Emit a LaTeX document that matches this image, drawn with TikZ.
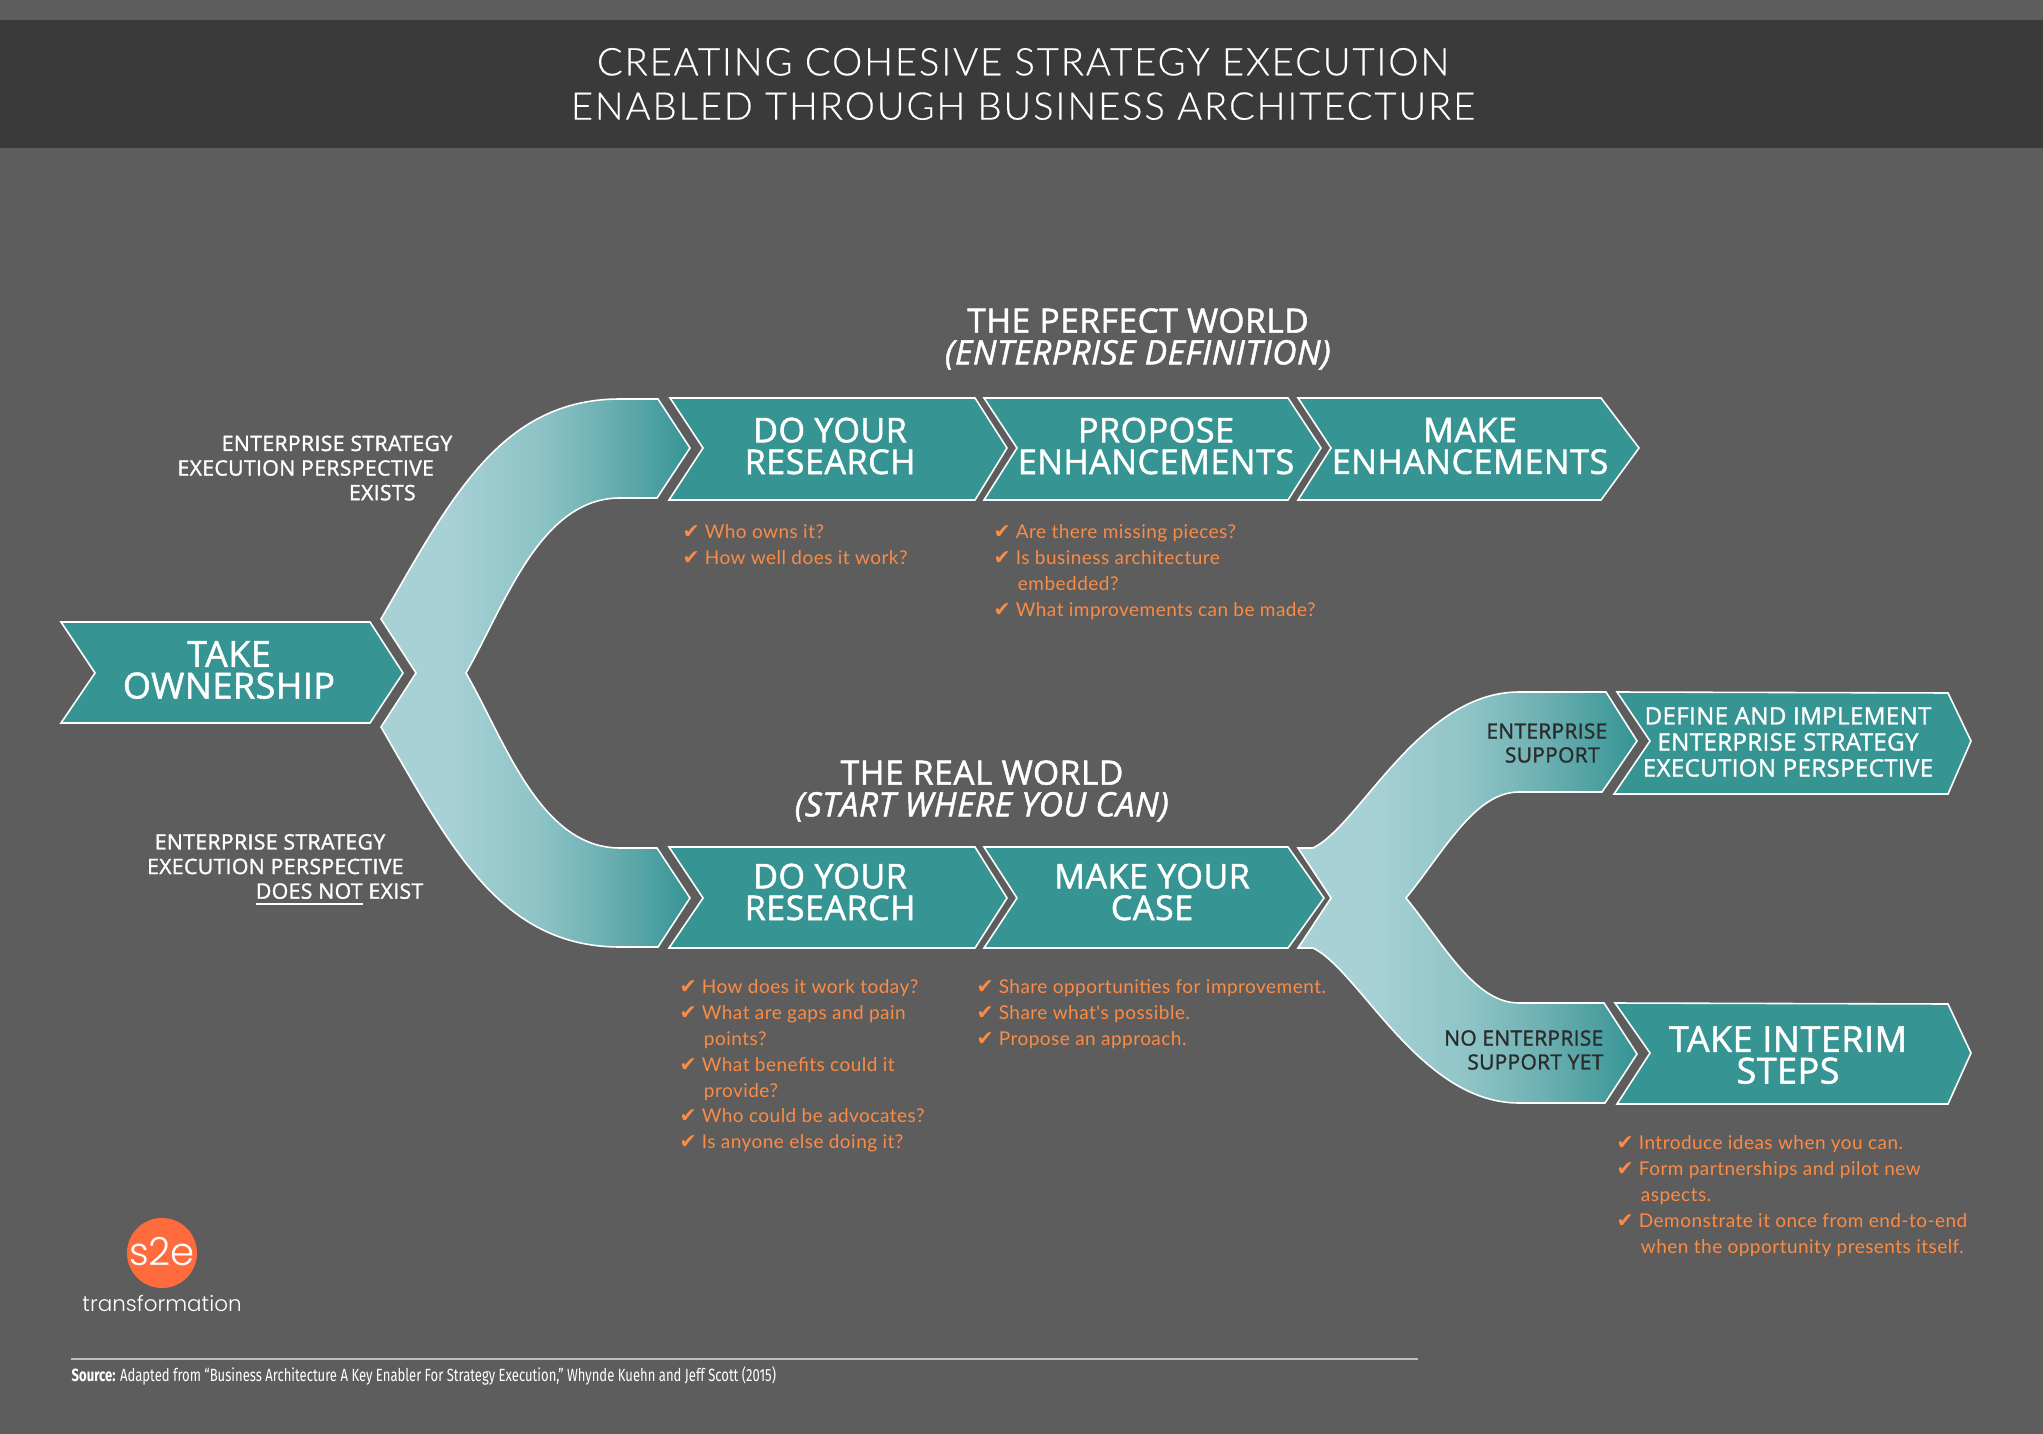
\documentclass[tikz,border=0pt]{standalone}
\usepackage{fontspec}
\setmainfont{Open Sans}
\newfontfamily\semifont[LetterSpace=1.5,FakeBold=1.4]{Open Sans}
\newfontfamily\titlefont[LetterSpace=5,FakeBold=0.4]{Lato Light}
\newfontfamily\listfont[LetterSpace=2.5]{Lato}
\newfontfamily\sourcefont[FakeStretch=0.74]{Fira Sans}
\newfontfamily\logofont{Poppins Light}
\newfontfamily\checkfont{DejaVu Sans}
\definecolor{bgcol}{HTML}{5D5D5D}
\definecolor{barcol}{HTML}{3A3A3A}
\definecolor{chevcol}{HTML}{369593}
\definecolor{listcol}{HTML}{FB8B45}
\definecolor{logocol}{HTML}{FF6B3D}
\definecolor{darktxt}{HTML}{2B2B2B}
\pgfdeclarehorizontalshading{forkgrad}{100bp}{rgb(0bp)=(0.66,0.82,0.84); rgb(35bp)=(0.66,0.82,0.84); rgb(50bp)=(0.56,0.77,0.78); rgb(61bp)=(0.43,0.69,0.70); rgb(75bp)=(0.21,0.58,0.58); rgb(100bp)=(0.21,0.58,0.58)}
\tikzstyle{chev}=[fill=chevcol, draw=white, line width=0.45pt]
\tikzstyle{fork}=[shade, shading=forkgrad, draw=white, line width=0.45pt]
\tikzstyle{chevtxt}=[text=white, align=center, inner sep=0pt, font=\semifont\fontsize{9.7}{9}\selectfont]
\tikzstyle{bigtxt}=[text=white, align=center, inner sep=0pt, font=\semifont\fontsize{10.2}{9}\selectfont]
\tikzstyle{smalltxt}=[text=white, align=center, inner sep=0pt, font=\semifont\fontsize{6.85}{7.4}\selectfont]
\tikzstyle{labeltxt}=[text=white, align=right, inner sep=0pt, font=\semifont\fontsize{6.05}{7}\selectfont]
\tikzstyle{forktxt}=[text=darktxt, align=right, anchor=east, inner sep=0pt, font=\semifont\fontsize{5.95}{6.8}\selectfont]
\tikzstyle{headtxt}=[text=white, align=center, inner sep=0pt, font=\semifont\fontsize{9.55}{9}\selectfont]
\tikzstyle{listtxt}=[text=listcol, align=left, anchor=north west, inner sep=0pt, font=\listfont\fontsize{5.4}{7.35}\selectfont]
\newcommand{\chk}{\makebox[6.3pt][l]{\checkfont\fontsize{5.8}{5.8}\selectfont ✔}}
\newcommand{\cont}{\hspace*{6.9pt}}
\begin{document}
\begin{tikzpicture}[x=0.01cm, y=-0.01cm]
      \useasboundingbox (0, 0) rectangle (2043, 1434);
      \fill[bgcol] (0, 0) rectangle (2043, 1434);
      \fill[barcol] (0, 20) rectangle (2043, 148);
      \node[text=white, align=center, inner sep=0pt, font=\titlefont\fontsize{10.85}{12.6}\selectfont] (title) at (1023, 84)
        {CREATING COHESIVE STRATEGY EXECUTION\\ENABLED THROUGH BUSINESS ARCHITECTURE};

      \path[fork] (381, 619) .. controls (450, 500) and (500, 399) .. (620, 399) -- (658, 399) -- (690, 448)
        -- (657, 498) -- (620, 498) .. controls (540, 498) and (505, 605) .. (466, 673)
        .. controls (505, 741) and (540, 848) .. (620, 848) -- (657, 848) -- (690, 898) -- (658, 947) -- (620, 947)
        .. controls (500, 947) and (450, 846) .. (381, 727) -- (416, 673) -- cycle;
      \path[fork] (1298, 848) -- (1313, 848) .. controls (1360, 825) and (1420, 692) .. (1519, 692) -- (1606, 692) -- (1637, 741)
        -- (1602, 792) -- (1519, 792) .. controls (1475, 792) and (1445, 850) .. (1406, 898)
        .. controls (1445, 946) and (1475, 1003) .. (1519, 1003) -- (1604, 1003) -- (1637, 1054) -- (1605, 1103) -- (1519, 1103)
        .. controls (1420, 1103) and (1360, 971) .. (1313, 948) -- (1298, 948) -- (1331, 898) -- cycle;

      \draw[chev] (61, 622) -- (370, 622) -- (403, 673) -- (370, 723) -- (61, 723) -- (95, 673) -- cycle;
      \draw[chev] (670, 398) -- (975, 398) -- (1007, 448) -- (975, 500) -- (669, 500) -- (703, 448) -- cycle;
      \draw[chev] (984, 398) -- (1288, 398) -- (1321, 448) -- (1288, 500) -- (984, 500) -- (1017, 448) -- cycle;
      \draw[chev] (1298, 398) -- (1601, 398) -- (1639, 448) -- (1601, 500) -- (1298, 500) -- (1331, 448) -- cycle;
      \draw[chev] (669, 847) -- (975, 847) -- (1007, 898) -- (975, 948) -- (669, 948) -- (703, 898) -- cycle;
      \draw[chev] (984, 847) -- (1288, 847) -- (1324, 898) -- (1288, 948) -- (984, 948) -- (1017, 898) -- cycle;
      \draw[chev] (1617, 692) -- (1948, 693) -- (1971, 741) -- (1948, 794) -- (1614, 794) -- (1650, 741) -- cycle;
      \draw[chev] (1615, 1003) -- (1948, 1004) -- (1971, 1053) -- (1948, 1104) -- (1617, 1104) -- (1650, 1053) -- cycle;

      \node[bigtxt]  (take)     at (229, 670)  {TAKE\\OWNERSHIP};
      \node[chevtxt] (research) at (830, 446)  {DO YOUR\\RESEARCH};
      \node[chevtxt] (propose)  at (1156, 446) {PROPOSE\\ENHANCEMENTS};
      \node[chevtxt] (make)     at (1470, 446) {MAKE\\ENHANCEMENTS};
      \node[chevtxt] (research2) at (830, 892) {DO YOUR\\RESEARCH};
      \node[chevtxt] (case)     at (1152, 892) {MAKE YOUR\\CASE};
      \node[smalltxt] (define)  at (1788, 742) {DEFINE AND IMPLEMENT\\ENTERPRISE STRATEGY\\EXECUTION PERSPECTIVE};
      \node[bigtxt]  (interim)  at (1788, 1055) {TAKE INTERIM\\STEPS};

      \node[headtxt] (perfect) at (1138, 339) {THE PERFECT WORLD\\\textit{(ENTERPRISE DEFINITION)}};
      \node[headtxt] (real)    at (982, 791)  {THE REAL WORLD\\\textit{(START WHERE YOU CAN)}};

      \node[labeltxt, anchor=east] (exists) at (453, 468)
        {ENTERPRISE STRATEGY\\EXECUTION PERSPECTIVE\rule{5.2pt}{0pt}\\EXISTS\rule{10.4pt}{0pt}};
      \node[labeltxt, anchor=east] (notexist) at (424, 870)
        {ENTERPRISE STRATEGY\rule{10.8pt}{0pt}\\EXECUTION PERSPECTIVE\rule{5.6pt}{0pt}\\\underline{DOES NOT} EXIST};
      \node[forktxt] (support)   at (1608, 743)  {ENTERPRISE\\SUPPORT\rule{2.2pt}{0pt}};
      \node[forktxt] (nosupport) at (1604, 1050) {NO ENTERPRISE\\SUPPORT YET};

      \node[listtxt] (list1) at (682, 524) {\chk Who owns it?\\\chk How well does it work?};
      \node[listtxt] (list2) at (993, 524) {\chk Are there missing pieces?\\\chk Is business architecture\\\cont embedded?\\\chk What improvements can be made?};
      \node[listtxt] (list3) at (679, 979) {\chk How does it work today?\\\chk What are gaps and pain\\\cont points?\\\chk What benefits could it\\\cont provide?\\\chk Who could be advocates?\\\chk Is anyone else doing it?};
      \node[listtxt] (list4) at (976, 979) {\chk Share opportunities for improvement.\\\chk Share what's possible.\\\chk Propose an approach.};
      \node[listtxt] (list5) at (1616, 1135) {\chk Introduce ideas when you can.\\\chk Form partnerships and pilot new\\\cont aspects.\\\chk Demonstrate it once from end-to-end\\\cont when the opportunity presents itself.};

      \node[circle, fill=logocol, minimum size=70*0.01cm, inner sep=0pt] (logo) at (162, 1253) {};
      \node[text=white, inner sep=0pt, font=\logofont\fontsize{11}{11}\selectfont] (logotxt) at (162, 1252) {s2e};
      \node[text=white, inner sep=0pt, font=\logofont\fontsize{6.1}{7}\selectfont] (brand) at (162, 1303) {transformation};

      \draw[draw=black!25, line width=0.4pt] (71, 1359) -- (1418, 1359);
      \node[text=white, anchor=west, inner sep=0pt, font=\sourcefont\fontsize{5.02}{5}\selectfont] (source) at (71, 1376)
        {\textbf{Source:} Adapted from “Business Architecture A Key Enabler For Strategy Execution,” Whynde Kuehn and Jeff Scott (2015)};
    \end{tikzpicture}
\end{document}
